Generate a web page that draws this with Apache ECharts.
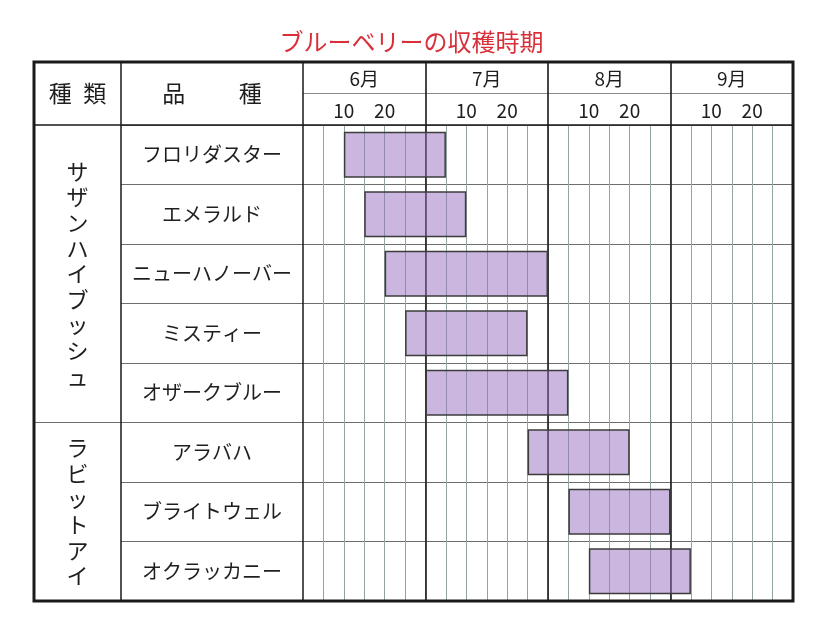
<!DOCTYPE html>
<html><head><meta charset="utf-8">
<script src="https://cdn.jsdelivr.net/npm/echarts@6/dist/echarts.min.js"></script>
<style>html,body{margin:0;padding:0;background:#fff}#c{width:823px;height:629px}</style>
</head><body><div id="c"></div>
<script>
// ---- data ----
const chartTitle = 'ブルーベリーの収穫時期';
const headKind = '種\u2002類';
const headName = '品\u3000\u3000\u2004種';
const groups = ['サザンハイブッシュ', 'ラビットアイ'];
const groupSizes = [5, 3];
const varieties = ['フロリダスター', 'エメラルド', 'ニューハノーバー', 'ミスティー', 'オザークブルー', 'アラバハ', 'ブライトウェル', 'オクラッカニー'];
const months = ['6月', '7月', '8月', '9月'];
const dayTicks = ['10', '20'];
// harvest period, in 5-day slots counted from June 1 (6 slots per month)
const harvestStart = [2, 3, 4, 5, 6, 11, 13, 14];
const harvestEnd   = [7, 8, 12, 11, 13, 16, 18, 19];
const slotsPerMonth = 6;

// ---- derived ----
const totalSlots = months.length * slotsPerMonth;
const nRows = varieties.length;
const groupCenters = [];
let acc = 0;
groupSizes.forEach(s => { groupCenters.push(acc + s / 2); acc += s; });
const duration = harvestEnd.map((e, i) => e - harvestStart[i]);

const FONT = '"Noto Sans CJK JP", "Noto Sans", sans-serif';
const TXT = '#1e1e1e';
const DARK = '#1a1a1a';
const ROWLINE = '#6e6e6e';
const FINE = '#93a5a3';

const L = 34, T = 62, R = 30, B = 28, HEAD_B = 125, KIND_R = 121, NAME_R = 303;
const HEAD_MID = (HEAD_B - T) / 2;

const hid = (grid, type, extra) => Object.assign({ gridIndex: grid, type: type || 'value', show: false }, extra || {});
const noAxis = { axisLine: { show: false }, axisTick: { show: false } };

const option = {
  animation: false,
  backgroundColor: '#fff',
  title: {
    text: chartTitle, left: 'center', top: 25,
    textStyle: { color: '#d8303a', fontSize: 24, fontWeight: 'normal', fontFamily: FONT }
  },
  grid: [
    { left: L, top: T, right: R, bottom: B, show: true, borderColor: DARK, borderWidth: 3, z: 6 },           // 0 outer
    { left: L, top: HEAD_B, width: KIND_R - L, bottom: B },                                                    // 1 kind column
    { left: KIND_R, top: T, width: NAME_R - KIND_R, bottom: B, show: true, borderColor: DARK, borderWidth: 1.5, z: 5 }, // 2 name column
    { left: KIND_R, top: HEAD_B, right: R, bottom: B },                                                        // 3 rows
    { left: L, top: T, right: R, height: HEAD_B - T, show: true, borderColor: DARK, borderWidth: 1.5, z: 5 },   // 4 header
    { left: NAME_R, top: T, right: R, height: HEAD_B - T },                                                    // 5 month header
    { left: NAME_R, top: T, right: R, bottom: B },                                                             // 6 month dividers
    { left: NAME_R, top: HEAD_B, right: R, bottom: B }                                                         // 7 chart body
  ],
  xAxis: [
    hid(0),
    // 1: "種類" title above the kind column
    Object.assign({ gridIndex: 1, type: 'category', data: [headKind], position: 'top', splitLine: { show: false } }, noAxis, {
      axisLabel: { margin: HEAD_MID, verticalAlign: 'middle', color: TXT, fontSize: 23, fontFamily: FONT, interval: 0 }
    }),
    // 2: "品種" title inside top of name column
    Object.assign({ gridIndex: 2, type: 'category', data: [headName], position: 'top', splitLine: { show: false } }, noAxis, {
      axisLabel: { inside: true, margin: HEAD_MID, verticalAlign: 'middle', color: TXT, fontSize: 23, fontFamily: FONT, interval: 0 }
    }),
    hid(3), hid(4),
    // 5 months
    Object.assign({ gridIndex: 5, type: 'category', data: months, position: 'top', splitLine: { show: false } }, noAxis, {
      axisLabel: { inside: true, margin: 17, verticalAlign: 'middle', color: TXT, fontSize: 19, fontFamily: FONT, interval: 0 }
    }),
    // 6 day ticks
    Object.assign({ gridIndex: 5, type: 'value', min: 0, max: totalSlots, interval: 2, position: 'bottom', splitLine: { show: false } }, noAxis, {
      axisLabel: {
        inside: true, margin: 14, verticalAlign: 'middle', color: TXT, fontSize: 19, fontFamily: FONT,
        showMinLabel: false, showMaxLabel: false,
        formatter: v => { const k = v % slotsPerMonth; return k === 2 ? dayTicks[0] : (k === 4 ? dayTicks[1] : ''); }
      }
    }),
    // 7 month dividers
    Object.assign({ gridIndex: 6, type: 'value', min: 0, max: totalSlots, interval: slotsPerMonth, z: 1 }, noAxis, {
      axisLabel: { show: false },
      splitLine: { show: true, showMinLine: false, showMaxLine: false, lineStyle: { color: DARK, width: 1.6 } }
    }),
    // 8 chart body fine grid
    Object.assign({ gridIndex: 7, type: 'value', min: 0, max: totalSlots, interval: 1, z: 0 }, noAxis, {
      axisLabel: { show: false },
      splitLine: { show: true, showMinLine: false, showMaxLine: false, lineStyle: { color: FINE, width: 1 } }
    })
  ],
  yAxis: [
    hid(0),
    // 1 group labels
    Object.assign({ gridIndex: 1, type: 'value', min: 0, max: nRows, interval: 0.5, inverse: true, splitLine: { show: false } }, noAxis, {
      axisLabel: {
        inside: true, margin: (KIND_R - L) / 2, align: 'center', verticalAlign: 'middle',
        color: TXT, fontSize: 22, lineHeight: 25.6, fontFamily: FONT,
        formatter: v => { const gi = groupCenters.indexOf(v); return gi >= 0 ? groups[gi].split('').join('\n') : ''; }
      }
    }),
    // 2 group boundary
    Object.assign({ gridIndex: 1, type: 'value', min: 0, max: nRows, interval: groupSizes[0], inverse: true }, noAxis, {
      axisLabel: { show: false },
      splitLine: { show: true, showMinLine: false, showMaxLine: false, lineStyle: { color: ROWLINE, width: 1 } }
    }),
    hid(2),
    // 4 variety names + row lines
    Object.assign({ gridIndex: 3, type: 'category', data: varieties, inverse: true }, noAxis, {
      axisLabel: { inside: true, margin: (NAME_R - KIND_R) / 2, align: 'center', verticalAlign: 'middle', color: TXT, fontSize: 20, fontFamily: FONT, interval: 0 },
      splitLine: { show: true, interval: 0, lineStyle: { color: ROWLINE, width: 1 } }
    }),
    hid(4),
    // 6 header mid line
    Object.assign({ gridIndex: 5, type: 'value', min: 0, max: 2, interval: 1 }, noAxis, {
      axisLabel: { show: false },
      splitLine: { show: true, showMinLine: false, showMaxLine: false, lineStyle: { color: '#8a8a8a', width: 1 } }
    }),
    hid(6),
    // 8 chart body rows
    Object.assign({ gridIndex: 7, type: 'category', data: varieties, inverse: true, splitLine: { show: false } }, noAxis, {
      axisLabel: { show: false }
    })
  ],
  series: [
    {
      type: 'bar', xAxisIndex: 8, yAxisIndex: 8, stack: 'h', silent: true,
      data: harvestStart, barWidth: '77%',
      itemStyle: { color: 'rgba(0,0,0,0)', borderWidth: 0 }
    },
    {
      type: 'bar', xAxisIndex: 8, yAxisIndex: 8, stack: 'h', silent: true,
      data: duration, barWidth: '77%',
      itemStyle: { color: 'rgba(150,110,192,0.5)', borderColor: '#3c3c3c', borderWidth: 1.5 }
    }
  ]
};

const chart = echarts.init(document.getElementById('c'), null, { renderer: 'canvas' });
chart.setOption(option);
</script></body></html>
